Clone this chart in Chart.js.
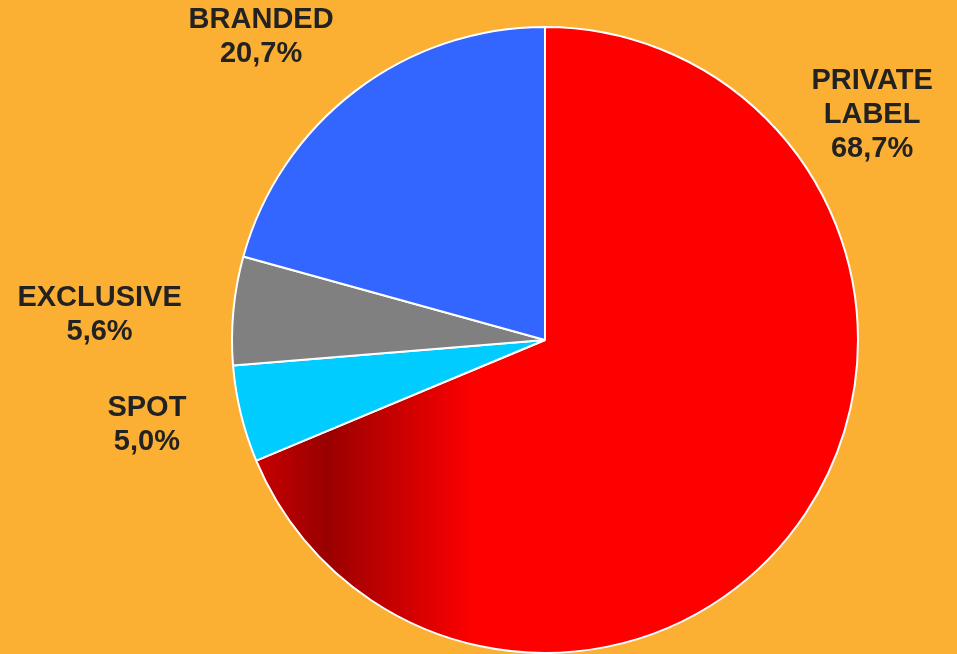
<!DOCTYPE html>
<html>
<head>
<meta charset="utf-8">
<script src="https://cdn.jsdelivr.net/npm/chart.js@4/dist/chart.umd.min.js"></script>
<style>
  html,body{margin:0;padding:0;background:#FBB034;}
  #wrap{width:957px;height:654px;position:relative;}
</style>
</head>
<body>
<div id="wrap"><canvas id="pie"></canvas></div>
<script>
// slices go clockwise from 12 o'clock
const categories = [['PRIVATE', 'LABEL'], ['SPOT'], ['EXCLUSIVE'], ['BRANDED']];
const shares = [68.7, 5.0, 5.6, 20.7];
const shareLabels = ['68,7%', '5,0%', '5,6%', '20,7%'];
const sliceColors = ['#FF0000', '#00CCFF', '#808080', '#3366FF'];

// label anchor, as offset from pie centre in units of the radius
const labelSpots = [[1.045, -0.72], [-1.272, 0.27], [-1.423, -0.08], [-0.907, -0.968]];

function redFill(ctx){
  const chart = ctx.chart;
  const a = chart.chartArea;
  if (!a) return sliceColors[0];
  const cx = (a.left + a.right) / 2;
  const r = Math.min(a.right - a.left, a.bottom - a.top) / 2;
  const g = chart.ctx.createLinearGradient(cx - r * 0.93, 0, cx - r * 0.22, 0);
  g.addColorStop(0, '#CC0000');
  g.addColorStop(0.33, '#990000');
  g.addColorStop(1, '#FF0000');
  return g;
}

const outsideLabels = {
  id: 'outsideLabels',
  afterDraw(chart){
    const arc = chart.getDatasetMeta(0).data[0];
    if (!arc) return;
    const {x: cx, y: cy, outerRadius: r} = arc.getProps(['x','y','outerRadius'], true);
    const c = chart.ctx;
    c.save();
    c.fillStyle = '#222222';
    c.font = 'bold 29px "Liberation Sans", Arial, sans-serif';
    c.textAlign = 'center';
    c.textBaseline = 'middle';
    const lh = 34;
    categories.forEach((cat, i)=>{
      const lines = cat.concat([shareLabels[i]]);
      const x = cx + labelSpots[i][0] * r;
      const y0 = cy + labelSpots[i][1] * r - (lines.length - 1) * lh / 2;
      lines.forEach((t, k)=> c.fillText(t, x, y0 + k * lh));
    });
    c.restore();
  }
};

new Chart(document.getElementById('pie'), {
  type: 'pie',
  data: {
    labels: categories.map(c=> c.join(' ')),
    datasets: [{
      data: shares,
      backgroundColor: ctx=> ctx.dataIndex === 0 ? redFill(ctx) : sliceColors[ctx.dataIndex],
      borderColor: '#FFFFFF',
      borderWidth: 2,
      hoverOffset: 0
    }]
  },
  options: {
    responsive: true,
    maintainAspectRatio: false,
    animation: false,
    layout: {padding: {left: 231, right: 98, top: 26, bottom: 0}},
    plugins: {legend: {display: false}, tooltip: {enabled: false}}
  },
  plugins: [outsideLabels]
});
</script>
</body>
</html>
